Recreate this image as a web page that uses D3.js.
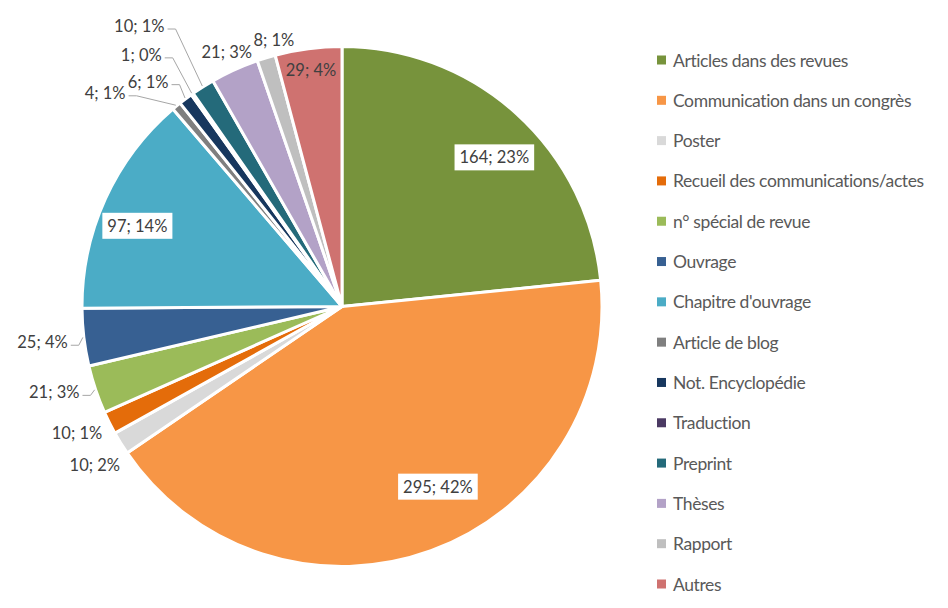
<!DOCTYPE html>
<html>
<head>
<meta charset="utf-8">
<script src="https://cdn.jsdelivr.net/npm/d3@7"></script>
<style>
  body { margin: 0; background: #fff; }
  svg text { font-family: Lato, 'Open Sans', sans-serif; }
</style>
</head>
<body>
<div class="canvas"></div>
<script>
// Data
const categories = ['Articles dans des revues', 'Communication dans un congrès', 'Poster',
  'Recueil des communications/actes', 'n° spécial de revue', 'Ouvrage', "Chapitre d'ouvrage",
  'Article de blog', 'Not. Encyclopédie', 'Traduction', 'Preprint', 'Thèses', 'Rapport', 'Autres']
const counts = [164, 295, 10, 10, 21, 25, 97, 4, 6, 1, 10, 21, 8, 29]
const percentLabels = ['23%', '42%', '2%', '1%', '3%', '4%', '14%', '1%', '1%', '0%', '1%', '3%', '1%', '4%']
const colors = ['#77933C', '#F79646', '#D9D9D9', '#E46C0A', '#9BBB59', '#376092', '#4BACC6',
  '#7F7F7F', '#17375E', '#4B3A63', '#246A7A', '#B3A2C7', '#BFBFBF', '#CF7270']

// Label layout: [radius factor, angle shift in degrees, boxed]
const labelLayout = [
  [0.82, 3.5, true], [0.785, -8, true], [1.13, -1, false], [1.13, 1, false],
  [1.155, 2, false], [1.16, 0, false], [0.846, -3, true], [1.227, -8.4, false],
  [1.142, -3.8, false], [1.238, -3.4, false], [1.331, -3.5, false], [1.073, 0, false],
  [1.058, 2.6, false], [0.919, 0, false]
]

const width = 948
const height = 608
const cx = 342
const cy = 306.5
const radius = 260

const svg = d3.select('.canvas')
  .append('svg')
  .attr('width', width)
  .attr('height', height)

const data = categories.map((c, i) => ({ name: c, value: counts[i], pct: percentLabels[i], color: colors[i], i: i }))

const pie = d3.pie().sort(null).value(d => d.value)
const arc = d3.arc().innerRadius(0).outerRadius(radius)

const graph = svg.append('g')
  .attr('transform', `translate(${cx}, ${cy})`)

const arcs = pie(data)

graph.selectAll('path')
  .data(arcs)
  .enter()
  .append('path')
  .attr('d', arc)
  .attr('fill', d => d.data.color)
  .attr('stroke', '#fff')
  .attr('stroke-width', 3)
  .attr('stroke-linejoin', 'round')

// polar helper (angle clockwise from 12 o'clock)
const polar = (a, r) => [Math.sin(a) * r, -Math.cos(a) * r]

const labels = graph.append('g')

arcs.forEach(d => {
  const [rf, shift, boxed] = labelLayout[d.data.i]
  const mid = (d.startAngle + d.endAngle) / 2
  const [lx, ly] = polar(mid + shift * Math.PI / 180, radius * rf)
  const g = labels.append('g')
  const t = g.append('text')
    .attr('x', lx)
    .attr('y', ly)
    .attr('text-anchor', 'middle')
    .attr('dominant-baseline', 'central')
    .attr('font-size', 16.5)
    .attr('fill', '#404040')
    .text(`${d.data.value}; ${d.data.pct}`)
  const bb = t.node().getBBox()
  if (boxed) {
    g.insert('rect', 'text')
      .attr('x', lx - bb.width / 2 - 5)
      .attr('y', ly - 13)
      .attr('width', bb.width + 10)
      .attr('height', 26)
      .attr('fill', '#fff')
  }
  // leader lines for labels pulled away from their slice
  if (rf > 1.135) {
    const [ex, ey] = polar(mid, radius + 1)
    const sx = lx + bb.width / 2 + 3
    const sy = ly + 3
    labels.append('polyline')
      .attr('points', `${sx},${sy} ${sx + 8},${sy} ${ex},${ey}`)
      .attr('fill', 'none')
      .attr('stroke', '#A6A6A6')
      .attr('stroke-width', 1)
  }
})

// Legend
const legendY = d3.scalePoint()
  .domain(categories)
  .range([60, 584])

const legend = svg.append('g')
  .selectAll('g')
  .data(data)
  .enter()
  .append('g')
  .attr('transform', d => `translate(657, ${legendY(d.name)})`)

legend.append('rect')
  .attr('x', 0)
  .attr('y', -4.5)
  .attr('width', 9)
  .attr('height', 9)
  .attr('fill', d => d.color)

legend.append('text')
  .attr('x', 16)
  .attr('y', 0)
  .attr('dominant-baseline', 'central')
  .attr('font-size', 17.5)
  .attr('fill', '#595959')
  .attr('letter-spacing', -0.4)
  .text(d => d.name)
</script>
</body>
</html>
